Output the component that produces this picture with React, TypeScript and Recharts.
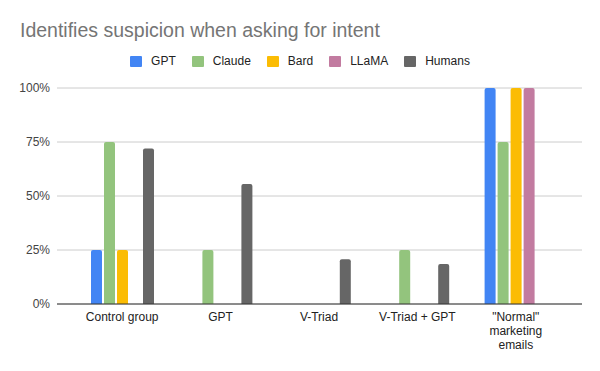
import React from "react";
import { Bar, BarChart, CartesianGrid, XAxis, YAxis } from "recharts";

const CATEGORIES = [
  "Control group",
  "GPT",
  "V-Triad",
  "V-Triad + GPT",
  '"Normal" marketing emails',
];

const GPT = [0.25, 0, 0, 0, 1];
const CLAUDE = [0.75, 0.25, 0, 0.25, 0.75];
const BARD = [0.25, 0, 0, 0, 1];
const LLAMA = [0, 0, 0, 0, 1];
const HUMANS = [0.72, 0.555, 0.207, 0.185, 0];

const Y_TICKS = [0, 0.25, 0.5, 0.75, 1];

const SERIES = [
  { key: "GPT", values: GPT, color: "#4285f4" },
  { key: "Claude", values: CLAUDE, color: "#93c47d" },
  { key: "Bard", values: BARD, color: "#fbbc04" },
  { key: "LLaMA", values: LLAMA, color: "#c27ba0" },
  { key: "Humans", values: HUMANS, color: "#666666" },
];

const FONT = '"Liberation Sans", Arial, sans-serif';

const data = CATEGORIES.map((name, i) => {
  const row: Record<string, string | number> = { name };
  SERIES.forEach((s) => {
    row[s.key] = s.values[i];
  });
  return row;
});

// greedy word wrap by character count, like the sheet's label wrapping
function wrap(label: string, maxChars = 14) {
  const lines: string[] = [];
  let cur = "";
  label.split(" ").forEach((w) => {
    const next = cur ? cur + " " + w : w;
    if (cur && next.length > maxChars) {
      lines.push(cur);
      cur = w;
    } else {
      cur = next;
    }
  });
  if (cur) lines.push(cur);
  return lines;
}

function CategoryTick(props: any) {
  const { x, y, payload } = props;
  const lines = wrap(String(payload.value));
  return (
    <text
      x={x}
      y={y}
      textAnchor="middle"
      fontSize={12}
      fill="#222"
      fontFamily={FONT}
    >
      {lines.map((ln, i) => (
        <tspan key={i} x={x} dy={i === 0 ? 9 : 14}>
          {ln}
        </tspan>
      ))}
    </text>
  );
}

export default function App() {
  return (
    <div
      style={{
        position: "absolute",
        left: 0,
        top: 0,
        width: 600,
        height: 371,
        background: "#fff",
        fontFamily: FONT,
      }}
    >
      <div
        style={{
          position: "absolute",
          left: 20,
          top: 19,
          fontSize: 19.5,
          color: "#757575",
          whiteSpace: "nowrap",
        }}
      >
        Identifies suspicion when asking for intent
      </div>
      <div
        style={{
          position: "absolute",
          left: 0,
          width: 600,
          top: 54,
          display: "flex",
          justifyContent: "center",
          fontSize: 12,
          color: "#222",
        }}
      >
        {SERIES.map((s) => (
          <div
            key={s.key}
            style={{ display: "flex", alignItems: "center", margin: "0 8px" }}
          >
            <span
              style={{
                width: 12,
                height: 11,
                borderRadius: 1,
                background: s.color,
                marginRight: 9,
              }}
            />
            <span>{s.key}</span>
          </div>
        ))}
      </div>
      <BarChart
        width={600}
        height={371}
        data={data}
        margin={{ top: 88, right: 18, bottom: 37, left: 0 }}
        barGap={2}
        barSize={11}
      >
        <CartesianGrid vertical={false} stroke="#ccc" />
        <XAxis
          dataKey="name"
          height={30}
          tickLine={false}
          axisLine={{ stroke: "#333" }}
          tickSize={0}
          tickMargin={8}
          interval={0}
          padding={{ left: 16, right: 17 }}
          tick={<CategoryTick />}
        />
        <YAxis
          width={57}
          domain={[0, 1]}
          ticks={Y_TICKS}
          tickFormatter={(v: number) => `${Math.round(v * 100)}%`}
          axisLine={false}
          tickLine={false}
          tickSize={0}
          tickMargin={7}
          tick={{ fontSize: 12, fill: "#444", fontFamily: FONT }}
        />
        {SERIES.map((s) => (
          <Bar
            key={s.key}
            dataKey={s.key}
            fill={s.color}
            radius={[2, 2, 0, 0]}
            isAnimationActive={false}
          />
        ))}
      </BarChart>
    </div>
  );
}
